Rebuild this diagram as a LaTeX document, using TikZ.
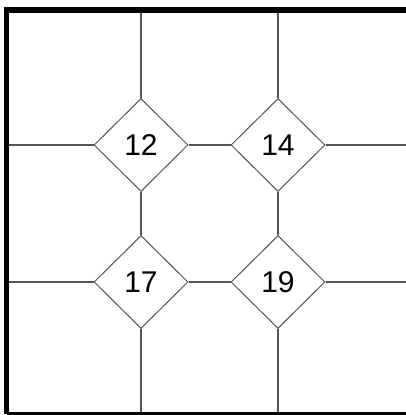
\documentclass[tikz,border=0pt]{standalone}
\usepackage{fontspec}
\setmainfont{Liberation Sans}
\usetikzlibrary{shapes.geometric}
\definecolor{gridgray}{HTML}{555555}
\tikzset{
  dnode/.style={diamond, draw=gridgray, line width=1pt, fill=white, inner sep=0pt,
    minimum width=94pt, minimum height=93pt,
    font=\fontsize{30}{34}\selectfont},
  gline/.style={draw=gridgray, line width=1.3pt},
  frame/.style={draw=black, line width=5.5pt}
}
\begin{document}
\begin{tikzpicture}[x=1pt,y=1pt]
\useasboundingbox (0,0) rectangle (406,415);
\fill[white] (0,0) rectangle (406,415);
% nodes (y = 415 - pixel y)
\node[dnode] (n12) at (141,270) {12};
\node[dnode] (n14) at (278,270) {14};
\node[dnode] (n17) at (141,133) {17};
\node[dnode] (n19) at (278,133) {19};
% free ends on the frame
\coordinate (t1) at (141,405);
\coordinate (t2) at (278,405);
\coordinate (b1) at (141,0);
\coordinate (b2) at (278,0);
\coordinate (l1) at (6.5,270);
\coordinate (l2) at (6.5,133);
\coordinate (r1) at (406,270);
\coordinate (r2) at (406,133);
% connectors
\draw[gline] (t1) -- (n12.north);
\draw[gline] (t2) -- (n14.north);
\draw[gline] (n12.south) -- (n17.north);
\draw[gline] (n14.south) -- (n19.north);
\draw[gline] (n17.south) -- (b1);
\draw[gline] (n19.south) -- (b2);
\draw[gline] (l1) -- (n12.west);
\draw[gline] (n12.east) -- (n14.west);
\draw[gline] (n14.east) -- (r1);
\draw[gline] (l2) -- (n17.west);
\draw[gline] (n17.east) -- (n19.west);
\draw[gline] (n19.east) -- (r2);
% frame
\draw[frame] (6.5,0.5) -- (6.5,405) -- (409,405);
\draw[frame] (6.5,0.5) -- (409,0.5);
\end{tikzpicture}
\end{document}
